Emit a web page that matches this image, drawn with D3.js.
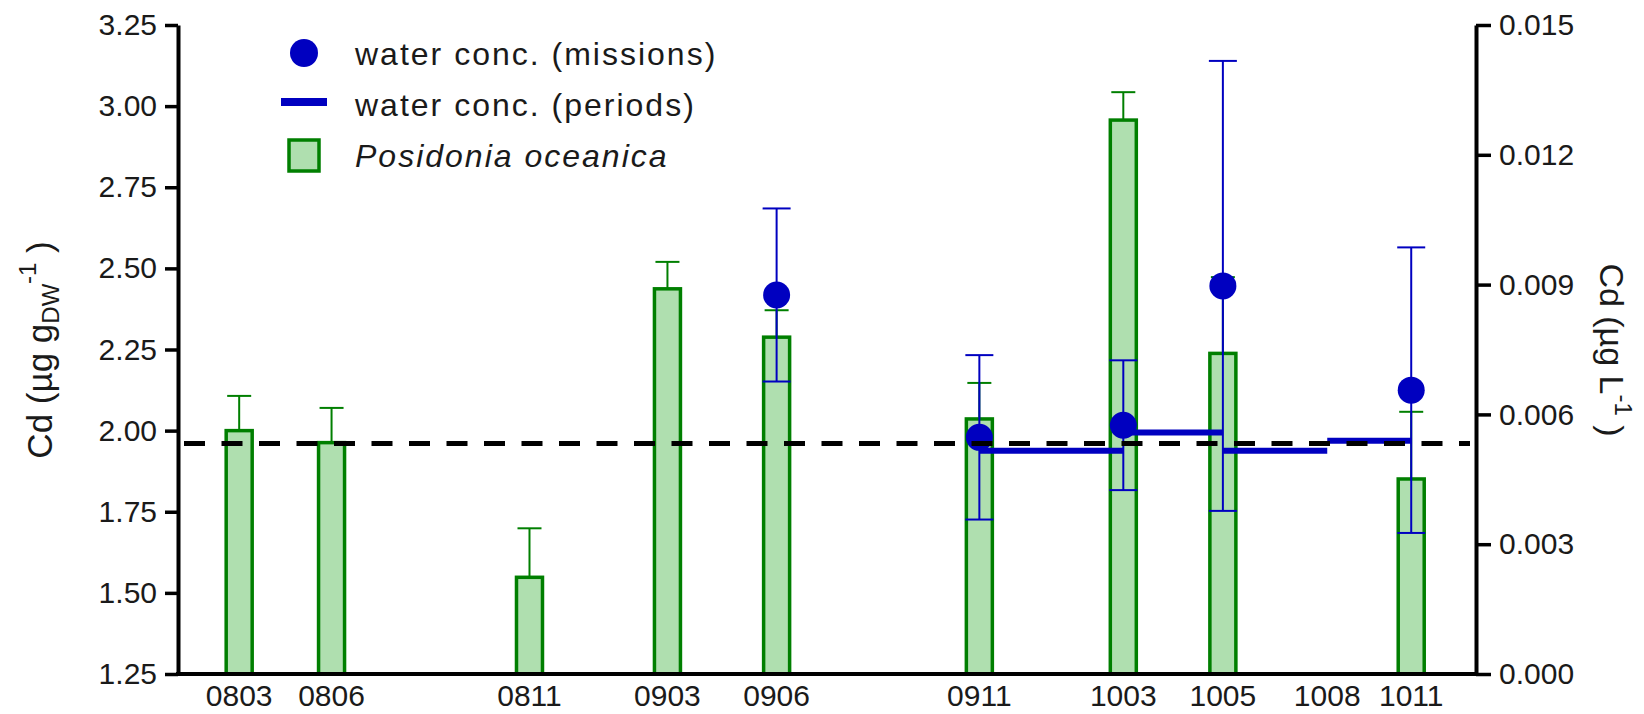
<!DOCTYPE html>
<html>
<head>
<meta charset="utf-8">
<script src="https://cdn.jsdelivr.net/npm/d3@7"></script>
<style>
  html, body { margin: 0; padding: 0; background: #fff; }
  svg text { font-family: "Liberation Sans", Arial, sans-serif; fill: #1a1a1a; }
</style>
</head>
<body>
<div id="chart"></div>
<script>
// sampling campaigns (yymm) and their position on the time axis (days from axis start)
const samples = ["0803", "0806", "0811", "0903", "0906", "0911", "1003", "1005", "1008", "1011"];
const sampleDay = [51, 128, 293, 408, 499, 668, 788, 871, 958, 1028];

// Posidonia oceanica Cd (µg g DW-1): mean and upper error (null = not sampled)
const poMean = [2.00, 1.963, 1.548, 2.437, 2.288, 2.036, 2.957, 2.238, null, 1.851];
const poErr = [0.107, 0.107, 0.151, 0.083, 0.083, 0.111, 0.086, 0.235, null, 0.207];

// water conc. (missions), Cd µg L-1 : mean ± sd
const missionSamples = ["0906", "0911", "1003", "1005", "1011"];
const missionMean = [0.00876, 0.00547, 0.00575, 0.00897, 0.00656];
const missionSd = [0.0020, 0.0019, 0.0015, 0.0052, 0.0033];

// water conc. (periods): from -> to, value
const periodFrom = ["0911", "1003", "1005", "1008"];
const periodTo = ["1003", "1005", "1008", "1011"];
const periodValue = [0.00516, 0.00558, 0.00516, 0.00539];

// reference level (left axis units)
const refLevel = 1.96;

const leftTicks = [1.25, 1.50, 1.75, 2.00, 2.25, 2.50, 2.75, 3.00, 3.25];
const rightTicks = [0, 0.003, 0.006, 0.009, 0.012, 0.015];

const W = 1644, H = 714;
const margin = { top: 25, right: 168, bottom: 40, left: 178 };

const svg = d3.select("#chart").append("svg")
  .attr("width", W).attr("height", H);

const x = d3.scaleLinear().domain([0, 1082]).range([margin.left, W - margin.right]);
const yL = d3.scaleLinear().domain([1.25, 3.25]).range([H - margin.bottom, margin.top]);
const yR = d3.scaleLinear().domain([0, 0.015]).range([H - margin.bottom, margin.top]);

const dayOf = (s) => sampleDay[samples.indexOf(s)];

const green = "#007f00", greenFill = "#afdfaf", blue = "#0000c0";
const barW = 26;

// bars + upper error bars
const bars = samples.map((s, i) => ({ s, day: sampleDay[i], v: poMean[i], e: poErr[i] }))
  .filter((d) => d.v != null);

const gBars = svg.append("g");
gBars.selectAll("line.err").data(bars).enter().append("line")
  .attr("x1", (d) => x(d.day)).attr("x2", (d) => x(d.day))
  .attr("y1", (d) => yL(d.v)).attr("y2", (d) => yL(d.v + d.e))
  .attr("stroke", green).attr("stroke-width", 2);
gBars.selectAll("line.cap").data(bars).enter().append("line")
  .attr("x1", (d) => x(d.day) - 12).attr("x2", (d) => x(d.day) + 12)
  .attr("y1", (d) => yL(d.v + d.e)).attr("y2", (d) => yL(d.v + d.e))
  .attr("stroke", green).attr("stroke-width", 2);
gBars.selectAll("rect").data(bars).enter().append("rect")
  .attr("x", (d) => x(d.day) - barW / 2)
  .attr("width", barW)
  .attr("y", (d) => yL(d.v))
  .attr("height", (d) => yL(1.25) - yL(d.v))
  .attr("fill", greenFill).attr("stroke", green).attr("stroke-width", 3.5);

// water missions error bars
const missions = missionSamples.map((s, i) => ({ day: dayOf(s), v: missionMean[i], sd: missionSd[i] }));
const gErr = svg.append("g").attr("stroke", blue).attr("stroke-width", 2);
missions.forEach((d) => {
  const cx = x(d.day);
  gErr.append("line").attr("x1", cx).attr("x2", cx).attr("y1", yR(d.v - d.sd)).attr("y2", yR(d.v + d.sd));
  [d.v - d.sd, d.v + d.sd].forEach((v) => {
    gErr.append("line").attr("x1", cx - 14).attr("x2", cx + 14).attr("y1", yR(v)).attr("y2", yR(v));
  });
});

// periods
svg.append("g").selectAll("line").data(periodValue).enter().append("line")
  .attr("x1", (v, i) => x(dayOf(periodFrom[i])))
  .attr("x2", (v, i) => x(dayOf(periodTo[i])))
  .attr("y1", (v) => yR(v)).attr("y2", (v) => yR(v))
  .attr("stroke", blue).attr("stroke-width", 6);

// mission points
svg.append("g").selectAll("circle").data(missions).enter().append("circle")
  .attr("cx", (d) => x(d.day)).attr("cy", (d) => yR(d.v)).attr("r", 13.5)
  .attr("fill", blue);

// dashed reference line
svg.append("line")
  .attr("x1", margin.left + 6).attr("x2", W - margin.right - 6)
  .attr("y1", yL(refLevel)).attr("y2", yL(refLevel))
  .attr("stroke", "#000").attr("stroke-width", 5)
  .attr("stroke-dasharray", "21,16.5");

// axes
const axL = svg.append("g").attr("transform", `translate(${margin.left},0)`)
  .call(d3.axisLeft(yL).tickValues(leftTicks).tickFormat(d3.format(".2f")).tickSize(13).tickSizeOuter(0).tickPadding(8));
const axR = svg.append("g").attr("transform", `translate(${W - margin.right},0)`)
  .call(d3.axisRight(yR).tickValues(rightTicks).tickFormat(d3.format(".3f")).tickSize(15).tickSizeOuter(0).tickPadding(8));
[axL, axR].forEach((a) => {
  a.select(".domain").attr("stroke-width", 4);
  a.selectAll(".tick line").attr("stroke-width", 3.5);
  a.selectAll(".tick text").style("font-size", "30px").attr("fill", "#1a1a1a");
});

svg.append("line")
  .attr("x1", margin.left - 2).attr("x2", W - margin.right + 2)
  .attr("y1", yL(1.25)).attr("y2", yL(1.25))
  .attr("stroke", "#000").attr("stroke-width", 4);

// x labels
svg.append("g").selectAll("text").data(samples).enter().append("text")
  .attr("x", (s, i) => x(sampleDay[i])).attr("y", H - 8)
  .attr("text-anchor", "middle").style("font-size", "30px")
  .text((s) => s);

// axis titles
const tl = svg.append("text").attr("transform", `translate(52,350) rotate(-90)`)
  .attr("text-anchor", "middle").style("font-size", "35px");
tl.append("tspan").text("Cd (µg g");
tl.append("tspan").attr("dy", 7).style("font-size", "24px").text("DW");
tl.append("tspan").attr("dy", -23).style("font-size", "24px").text("-1");
tl.append("tspan").attr("dy", 16).text(" )");

const tr = svg.append("text").attr("transform", `translate(1600,350) rotate(90)`)
  .attr("text-anchor", "middle").style("font-size", "34px");
tr.append("tspan").text("Cd (µg L");
tr.append("tspan").attr("dy", -15).style("font-size", "24px").text("-1");
tr.append("tspan").attr("dy", 15).text(" )");

// legend
const lg = svg.append("g").attr("transform", "translate(304,0)");
lg.append("circle").attr("cx", 0).attr("cy", 53).attr("r", 14).attr("fill", blue);
lg.append("line").attr("x1", -23).attr("x2", 23).attr("y1", 102).attr("y2", 102)
  .attr("stroke", blue).attr("stroke-width", 8);
lg.append("rect").attr("x", -15).attr("y", 140).attr("width", 30).attr("height", 31)
  .attr("fill", greenFill).attr("stroke", green).attr("stroke-width", 3.5);
const legendLabels = ["water conc. (missions)", "water conc. (periods)", "Posidonia oceanica"];
lg.selectAll("text").data(legendLabels).enter().append("text")
  .attr("x", 51).attr("y", (d, i) => 65 + i * 51)
  .style("font-size", "32px").style("letter-spacing", "2px")
  .style("font-style", (d, i) => (i === 2 ? "italic" : "normal"))
  .text((d) => d);
</script>
</body>
</html>
